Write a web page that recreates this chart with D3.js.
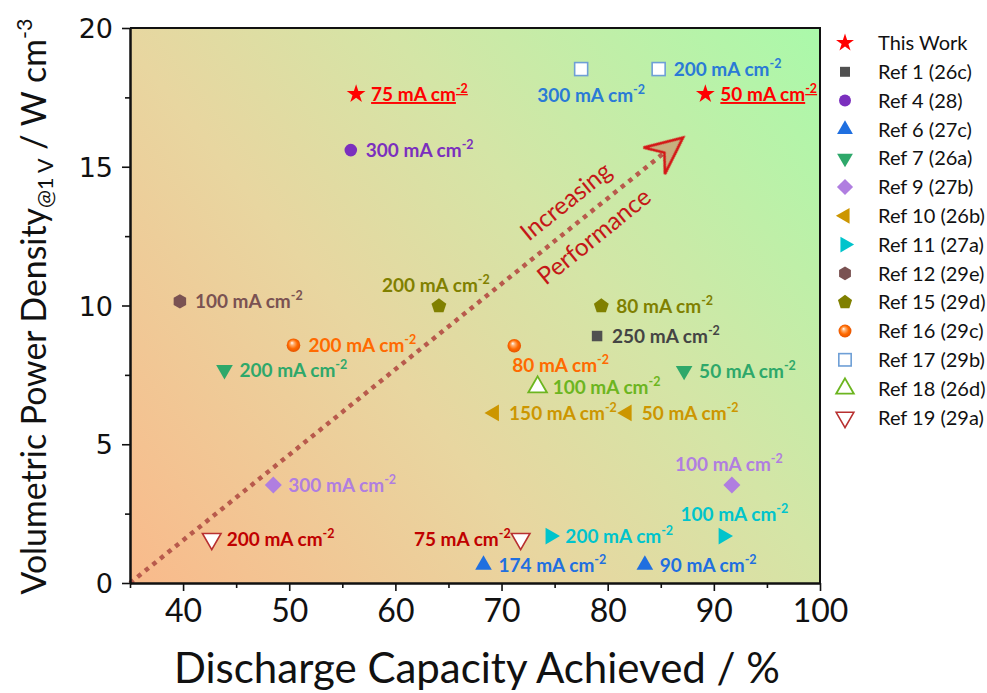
<!DOCTYPE html>
<html>
<head>
<meta charset="utf-8">
<script src="https://cdn.jsdelivr.net/npm/d3@7"></script>
<style>
  html, body { margin: 0; padding: 0; background: #ffffff; }
  svg { display: block; }
</style>
</head>
<body>
<svg id="chart" width="987" height="693"></svg>
<script>
// ---- Data: discharge capacity (%) vs volumetric power density at 1 V (W cm^-3) ----
const seriesNames = [
  "This Work", "Ref 1 (26c)", "Ref 4 (28)", "Ref 6 (27c)", "Ref 7 (26a)",
  "Ref 9 (27b)", "Ref 10 (26b)", "Ref 11 (27a)", "Ref 12 (29e)", "Ref 15 (29d)",
  "Ref 16 (29c)", "Ref 17 (29b)", "Ref 18 (26d)", "Ref 19 (29a)"
];
const capacity = [
  [56.3, 89.2], [79.0], [55.8], [68.3, 83.5], [43.9, 87.2],
  [48.5, 91.7], [69.3, 81.8], [74.6, 90.9], [39.7], [64.1, 79.4],
  [50.4, 71.2], [77.5, 84.8], [73.4], [42.7, 71.8]
];
const powerDensity = [
  [17.62, 17.62], [8.9], [15.6], [0.65, 0.65], [7.68, 7.65],
  [3.53, 3.53], [6.13, 6.13], [1.69, 1.69], [10.15], [9.98, 9.98],
  [8.57, 8.55], [18.52, 18.52], [7.06], [1.59, 1.59]
];
const currentDensity = [
  [75, 50], [250], [300], [174, 90], [200, 50],
  [300, 100], [150, 50], [200, 100], [100], [200, 80],
  [200, 80], [300, 200], [100], [200, 75]
];
const xTicks = [40, 50, 60, 70, 80, 90, 100];
const yTicks = [0, 5, 10, 15, 20];
const trendStart = [35, 0];
const trendEnd = [87.1, 16.05];

// ---- Styling per series ----
const markerColor = ["#ff0000", "#505050", "#7b2fbe", "#1f6fe0", "#2ea86a", "#b07ee0",
  "#cc9600", "#00c4cc", "#7a5252", "#808000", "#ff6a00", "#ffffff", "#ffffff", "#ffffff"];
const markerStroke = [null, null, null, null, null, null, null, null, null, null, null,
  "#6e9fd6", "#6cb520", "#b83030"];
const labelColor = ["#ff0000", "#444444", "#7b2fbe", "#1f6fe0", "#2ea86a", "#b07ee0",
  "#cc9600", "#00c4cc", "#7a5252", "#808000", "#ff6a00", "#2a7ad6", "#6cb520", "#c00000"];
const markerKind = ["star", "square", "circle", "triUp", "triDown", "diamond", "triLeft",
  "triRight", "hexagon", "pentagon", "sphere", "openSquare", "openTriUp", "openTriDown"];
// label side for each point: r = right, a = above, b = below (centred), bs = below (start), l = left
const labelSide = [
  ["r", "r"], ["r"], ["r"], ["r", "r"], ["r", "r"],
  ["r", "a"], ["r", "r"], ["r", "a2"], ["r"], ["a", "r"],
  ["r", "bs"], ["b", "r"], ["r"], ["r", "l"]
];
const sideOffset = {
  r:  { dx: 15, dy: 7, anchor: "start" },
  a:  { dx: -3, dy: -14, anchor: "middle" },
  a2: { dx: 11, dy: -15, anchor: "middle" },
  b:  { dx: 10, dy: 33, anchor: "middle" },
  bs: { dx: -2, dy: 26, anchor: "start" },
  l:  { dx: -10, dy: 7, anchor: "end" }
};

const svg = d3.select("#chart");
const W = 987, H = 693;
const margin = { left: 130, right: 167, top: 28, bottom: 110 };
const x = d3.scaleLinear().domain([35, 100]).range([margin.left, W - margin.right]);
const y = d3.scaleLinear().domain([0, 20]).range([H - margin.bottom, margin.top]);

const defs = svg.append("defs");
const bg = defs.append("linearGradient").attr("id", "bgGrad")
  .attr("gradientUnits", "userSpaceOnUse")
  .attr("x1", x(35)).attr("y1", y(0)).attr("x2", x(100)).attr("y2", y(20));
bg.append("stop").attr("offset", "0%").attr("stop-color", "#f9ba8b");
bg.append("stop").attr("offset", "38%").attr("stop-color", "#e8d6a0");
bg.append("stop").attr("offset", "62%").attr("stop-color", "#d4e5a6");
bg.append("stop").attr("offset", "100%").attr("stop-color", "#aaf9aa");

const sph = defs.append("radialGradient").attr("id", "sphere")
  .attr("cx", "50%").attr("cy", "50%").attr("r", "55%")
  .attr("fx", "38%").attr("fy", "32%");
sph.append("stop").attr("offset", "0%").attr("stop-color", "#ffffff");
sph.append("stop").attr("offset", "25%").attr("stop-color", "#ffb070");
sph.append("stop").attr("offset", "60%").attr("stop-color", "#ff6a00");
sph.append("stop").attr("offset", "100%").attr("stop-color", "#e04f00");

const soft = defs.append("filter").attr("id", "soft")
  .attr("x", "-30%").attr("y", "-30%").attr("width", "160%").attr("height", "160%");
soft.append("feGaussianBlur").attr("stdDeviation", 0.7);

// plot background
svg.append("rect")
  .attr("x", x(35)).attr("y", y(20))
  .attr("width", x(100) - x(35)).attr("height", y(0) - y(20))
  .attr("fill", "url(#bgGrad)");

// ---- Marker drawing ----
function polygonPath(n, r, rot) {
  const pts = d3.range(n).map(i => {
    const a = rot + i * 2 * Math.PI / n;
    return [r * Math.cos(a), r * Math.sin(a)];
  });
  return "M" + pts.map(p => p.join(",")).join("L") + "Z";
}
function drawMarker(g, kind, i, scale) {
  const s = scale || 1;
  const fill = markerColor[i], stroke = markerStroke[i];
  const tri = d3.symbol().type(d3.symbolTriangle).size(120 * s * s)();
  const triOpen = d3.symbol().type(d3.symbolTriangle).size(150 * s * s)();
  switch (kind) {
    case "star":
      g.append("path").attr("d", d3.symbol().type(d3.symbolStar).size(110 * s * s)()).attr("fill", fill); break;
    case "square":
      g.append("path").attr("d", d3.symbol().type(d3.symbolSquare).size(110 * s * s)()).attr("fill", fill); break;
    case "circle":
      g.append("circle").attr("r", 6.3 * s).attr("fill", fill); break;
    case "triUp":
      g.append("path").attr("d", tri).attr("fill", fill); break;
    case "triDown":
      g.append("path").attr("d", tri).attr("transform", "rotate(180)").attr("fill", fill); break;
    case "triLeft":
      g.append("path").attr("d", tri).attr("transform", "rotate(-90)").attr("fill", fill); break;
    case "triRight":
      g.append("path").attr("d", tri).attr("transform", "rotate(90)").attr("fill", fill); break;
    case "diamond":
      g.append("path").attr("d", polygonPath(4, 8.5 * s, 0)).attr("fill", fill); break;
    case "hexagon":
      g.append("path").attr("d", polygonPath(6, 7.2 * s, -Math.PI / 2)).attr("fill", fill); break;
    case "pentagon":
      g.append("path").attr("d", polygonPath(5, 7.8 * s, -Math.PI / 2)).attr("fill", fill); break;
    case "sphere":
      g.append("circle").attr("r", 6.8 * s).attr("fill", "url(#sphere)"); break;
    case "openSquare":
      g.append("rect").attr("x", -6.5 * s).attr("y", -6.5 * s).attr("width", 13 * s).attr("height", 13 * s)
        .attr("fill", fill).attr("stroke", stroke).attr("stroke-width", 1.6); break;
    case "openTriUp":
      g.append("path").attr("d", triOpen).attr("fill", fill).attr("stroke", stroke).attr("stroke-width", 1.8); break;
    case "openTriDown":
      g.append("path").attr("d", triOpen).attr("transform", "rotate(180)")
        .attr("fill", fill).attr("stroke", stroke).attr("stroke-width", 1.6); break;
  }
}

// ---- Trend arrow ----
const ax0 = x(trendStart[0]), ay0 = y(trendStart[1]);
const ax1 = x(trendEnd[0]), ay1 = y(trendEnd[1]);
const ang = Math.atan2(ay1 - ay0, ax1 - ax0);
const len = Math.hypot(ax1 - ax0, ay1 - ay0);
const ux = Math.cos(ang), uy = Math.sin(ang);
svg.append("line")
  .attr("x1", ax0).attr("y1", ay0)
  .attr("x2", ax1 - ux * 22).attr("y2", ay1 - uy * 22)
  .attr("stroke", "#b85a4c").attr("stroke-width", 4.5)
  .attr("stroke-dasharray", "4.5 5.2");
const head = svg.append("g")
  .attr("transform", `translate(${ax1},${ay1}) rotate(${ang * 180 / Math.PI})`);
head.append("path")
  .attr("d", "M0,0 L-37,-17 L-24,0 L-37,17 Z")
  .attr("fill", "rgba(205,60,50,0.35)")
  .attr("stroke", "#d41515").attr("stroke-width", 2.6)
  .attr("stroke-linejoin", "miter")
  .attr("filter", "url(#soft)");

// words along the arrow
const nx = uy, ny = -ux; // normal pointing up-left
const along = len * 0.815;
[["Increasing", 24], ["Performance", -21]].forEach(([word, off]) => {
  const cx = ax0 + ux * along + nx * off;
  const cy = ay0 + uy * along + ny * off;
  svg.append("text")
    .attr("transform", `translate(${cx},${cy}) rotate(${ang * 180 / Math.PI})`)
    .attr("text-anchor", "middle").attr("dy", "0.35em")
    .attr("font-family", "Lato, 'Open Sans', sans-serif")
    .attr("font-size", 24.5).attr("fill", "#c41818")
    .text(word);
});

// ---- Points and their current-density labels ----
const pts = svg.append("g");
seriesNames.forEach((name, i) => {
  capacity[i].forEach((cv, j) => {
    const px = x(cv), py = y(powerDensity[i][j]);
    const g = pts.append("g").attr("transform", `translate(${px},${py})`);
    drawMarker(g, markerKind[i], i, 1);
    const o = sideOffset[labelSide[i][j]];
    const t = pts.append("text")
      .attr("x", px + o.dx).attr("y", py + o.dy)
      .attr("text-anchor", o.anchor)
      .attr("font-family", "Lato, 'Open Sans', sans-serif")
      .attr("font-weight", "bold").attr("font-size", 19)
      .attr("fill", labelColor[i]);
    if (i === 0) t.attr("text-decoration", "underline");
    t.append("tspan").text(`${currentDensity[i][j]} mA cm`);
    t.append("tspan").attr("dy", -8).attr("font-size", 12.5).text("-2");
  });
});

// ---- Axes ----
const axisG = svg.append("g");
const xAxis = axisG.append("g").attr("transform", `translate(0,${y(0)})`)
  .call(d3.axisBottom(x).tickValues(xTicks).tickSize(8).tickSizeOuter(0).tickPadding(8));
axisG.append("g").attr("transform", `translate(0,${y(0)})`)
  .call(d3.axisBottom(x).tickValues(d3.range(35, 100, 10)).tickSize(5).tickSizeOuter(0).tickFormat(""));
const yAxis = axisG.append("g").attr("transform", `translate(${x(35)},0)`)
  .call(d3.axisLeft(y).tickValues(yTicks).tickSize(8).tickSizeOuter(0).tickPadding(9));
axisG.append("g").attr("transform", `translate(${x(35)},0)`)
  .call(d3.axisLeft(y).tickValues(d3.range(2.5, 20, 5)).tickSize(5).tickSizeOuter(0).tickFormat(""));
axisG.selectAll("path.domain").attr("stroke", "#111").attr("stroke-width", 2);
axisG.selectAll(".tick line").attr("stroke", "#111").attr("stroke-width", 1.6);
xAxis.selectAll("text")
  .attr("font-family", "Lato, 'Open Sans', sans-serif").attr("font-size", 32).attr("fill", "#111");
yAxis.selectAll("text")
  .attr("font-family", "'DejaVu Sans', Verdana, sans-serif").attr("font-size", 27).attr("fill", "#111")
  .attr("dy", "0.36em");

// frame (top and right)
svg.append("path")
  .attr("d", `M${x(35)},${y(20)}H${x(100)}V${y(0)}`)
  .attr("fill", "none").attr("stroke", "#111").attr("stroke-width", 2);

// ---- Axis titles ----
svg.append("text")
  .attr("x", (x(35) + x(100)) / 2 + 2).attr("y", 683)
  .attr("text-anchor", "middle")
  .attr("font-family", "Lato, 'Open Sans', sans-serif").attr("font-size", 42).attr("fill", "#111")
  .text("Discharge Capacity Achieved / %");

const yt = svg.append("text")
  .attr("transform", `translate(46,${(y(0) + y(20)) / 2 + 1}) rotate(-90)`)
  .attr("text-anchor", "middle")
  .attr("font-family", "Lato, 'Open Sans', sans-serif").attr("font-size", 33.8).attr("fill", "#111");
yt.append("tspan").text("Volumetric Power Density");
yt.append("tspan").attr("dy", 7).attr("font-size", 21.5).text("@1 V");
yt.append("tspan").attr("dy", -7).text(" / W cm");
yt.append("tspan").attr("dy", -14).attr("font-size", 21.5).text("-3");

// ---- Legend ----
const legend = svg.append("g").attr("transform", "translate(845,43)");
seriesNames.forEach((name, i) => {
  const row = legend.append("g").attr("transform", `translate(0,${i * 28.8})`);
  drawMarker(row, markerKind[i], i, 0.95);
  row.append("text")
    .attr("x", 33).attr("y", 0).attr("dy", "0.36em")
    .attr("font-family", "Lato, 'Open Sans', sans-serif").attr("font-size", 20)
    .attr("fill", "#111")
    .text(name);
});
</script>
</body>
</html>
